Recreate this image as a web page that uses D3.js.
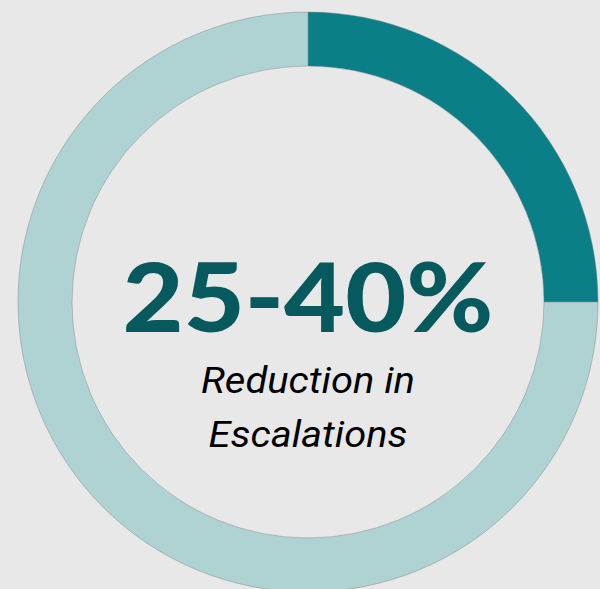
<!DOCTYPE html>
<html>
<head>
<meta charset="utf-8">
<script src="https://cdn.jsdelivr.net/npm/d3@7"></script>
<style>
  html, body { margin: 0; padding: 0; background: #e8e8e8; }
  svg { display: block; }
</style>
</head>
<body>
<svg id="chart"></svg>
<script>
// Data
const segments = ["Reduction", "Remainder"];
const values = [25, 75];
const colors = ["#0b7f87", "#afd3d3"];
const headline = "25-40%";
const caption = ["Reduction in", "Escalations"];
const captionWidths = [214, 199];

const width = 600;
const height = 589;

const svg = d3.select("#chart")
  .attr("width", width)
  .attr("height", height)
  .attr("viewBox", `0 0 ${width} ${height}`);

const cx = 308, cy = 302;
const outer = 290, inner = 236;

const pie = d3.pie().sort(null).value(d => d);
const arc = d3.arc().innerRadius(inner).outerRadius(outer);

const g = svg.append("g").attr("transform", `translate(${cx},${cy})`);

g.selectAll("path")
  .data(pie(values))
  .enter()
  .append("path")
  .attr("d", arc)
  .attr("fill", (d, i) => colors[i])
  .attr("stroke", "rgba(120,130,130,0.45)")
  .attr("stroke-width", 1);

// big number
g.append("text")
  .attr("x", 0)
  .attr("y", 30)
  .attr("text-anchor", "middle")
  .attr("font-family", "Lato, 'DejaVu Sans', sans-serif")
  .attr("font-weight", 900)
  .attr("font-size", 96)
  .attr("fill", "#065a5e")
  .attr("textLength", 371)
  .attr("lengthAdjust", "spacingAndGlyphs")
  .text(headline);

// caption
g.selectAll("text.cap")
  .data(caption)
  .enter()
  .append("text")
  .attr("class", "cap")
  .attr("x", 0)
  .attr("y", (d, i) => 91 + i * 54)
  .attr("text-anchor", "middle")
  .attr("font-family", "Roboto, sans-serif")
  .attr("font-style", "italic")
  .attr("font-size", 37)
  .attr("fill", "#000")
  .attr("textLength", (d, i) => captionWidths[i])
  .attr("lengthAdjust", "spacingAndGlyphs")
  .text(d => d);
</script>
</body>
</html>
